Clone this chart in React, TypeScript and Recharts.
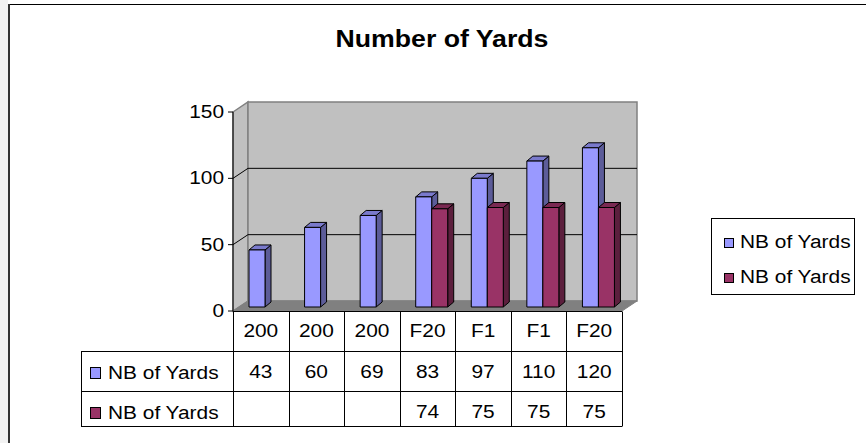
import React from 'react'
import { BarChart, Bar, XAxis, YAxis, CartesianGrid } from 'recharts'

const categories = ['200', '200', '200', 'F20', 'F1', 'F1', 'F20']
const yardsA = [43, 60, 69, 83, 97, 110, 120]
const yardsB: (number | null)[] = [null, null, null, 74, 75, 75, 75]
const seriesNames = ['NB of Yards', 'NB of Yards']
const seriesColors = ['#9999ff', '#993366']
const yTicks = [0, 50, 100, 150]

const data = categories.map((cat, i) => ({ idx: i, cat, a: yardsA[i], b: yardsB[i] }))
const seriesValues = [yardsA, yardsB]

// layout (front plane of the 3d plot box)
const W = 866, H = 443
const PLOT_L = 233, PLOT_R = 622, PLOT_T = 112, PLOT_B = 311
const DX = 15, DY = 10          // wall depth
const BAR_DX = 4, BAR_DY = -4   // bars sit a bit inside the box
const SIDE_X = 6, SIDE_Y = 5    // bar depth
const FONT = "'Liberation Sans', Arial, sans-serif"
const SX = 1.16                  // the original text is stretched sideways

const shade = (hex: string, f: number) => {
  const n = parseInt(hex.slice(1), 16)
  const c = [(n >> 16) & 255, (n >> 8) & 255, n & 255].map(v => Math.round(v * f))
  return `rgb(${c[0]},${c[1]},${c[2]})`
}

function SText({ x, y, size = 18, bold = false, anchor = 'start', children }: any) {
  return (
    <text transform={`translate(${x} ${y}) scale(${SX} 1)`} textAnchor={anchor}
      fontSize={size} fontWeight={bold ? 700 : 400} fontFamily={FONT} fill="#000">{children}</text>
  )
}

const bar3d = (front: string) => (p: any) => {
  const { x, y, width, height } = p
  if (!(height > 0)) return null
  const bx = x + BAR_DX, by = y + BAR_DY, r = bx + width
  return (
    <g stroke="#000" strokeWidth={1} strokeLinejoin="round">
      <polygon points={`${r},${by} ${r + SIDE_X},${by - SIDE_Y} ${r + SIDE_X},${by + height - SIDE_Y} ${r},${by + height}`} fill={shade(front, 0.6)} />
      <polygon points={`${bx},${by} ${bx + SIDE_X},${by - SIDE_Y} ${r + SIDE_X},${by - SIDE_Y} ${r},${by}`} fill={shade(front, 0.8)} />
      <rect x={bx} y={by} width={width} height={height} fill={front} />
    </g>
  )
}

const gridLine = (p: any) => {
  const { x1, x2, y1 } = p
  if (Math.abs(y1 - PLOT_T) < 1 || Math.abs(y1 - PLOT_B) < 1) return <g key={p.key} />
  return (
    <g key={p.key} stroke="#000" strokeWidth={1} fill="none">
      <polyline points={`${x1},${y1} ${x1 + DX},${y1 - DY} ${x2 + DX},${y1 - DY}`} />
    </g>
  )
}

const YTick = (p: any) => (
  <SText x={p.x} y={p.y + 6} anchor="end">{p.payload.value}</SText>
)

function Walls() {
  return (
    <svg width={W} height={H} style={{ position: 'absolute', left: 0, top: 0 }}>
      <rect x={0} y={0} width={8} height={H} fill="#f2f2f2" />
      <line x1={9} y1={4.5} x2={W} y2={4.5} stroke="#000" />
      <line x1={9} y1={4} x2={9} y2={H} stroke="#333" strokeWidth={2} />
      <SText x={442} y={47} size={23} bold anchor="middle">Number of Yards</SText>
      <polygon points={`${PLOT_L},${PLOT_T} ${PLOT_L + DX},${PLOT_T - DY} ${PLOT_L + DX},${PLOT_B - DY} ${PLOT_L},${PLOT_B}`}
        fill="#c0c0c0" stroke="#808080" strokeWidth={1.5} />
      <rect x={PLOT_L + DX} y={PLOT_T - DY} width={PLOT_R - PLOT_L} height={PLOT_B - PLOT_T}
        fill="#c0c0c0" stroke="#808080" strokeWidth={1.5} />
      <polygon points={`${PLOT_L},${PLOT_B} ${PLOT_L + DX},${PLOT_B - DY} ${PLOT_R + DX},${PLOT_B - DY} ${PLOT_R},${PLOT_B}`}
        fill="#808080" stroke="#808080" strokeWidth={1} />
    </svg>
  )
}

// data table under the plot + legend box on the right
function DataTable() {
  const colW = (PLOT_R - PLOT_L) / categories.length
  const TL = 81, R0 = PLOT_B + 0.5, R1 = 351.5, R2 = 391.5, R3 = 426.5
  const rows = [R1, R2]
  return (
    <svg width={W} height={H} style={{ position: 'absolute', left: 0, top: 0, pointerEvents: 'none' }}>
      <g stroke="#000" strokeWidth={1}>
        <line x1={PLOT_L} y1={R0} x2={PLOT_R} y2={R0} />
        <line x1={TL} y1={R1} x2={PLOT_R} y2={R1} />
        <line x1={TL} y1={R2} x2={PLOT_R} y2={R2} />
        <line x1={TL} y1={R3} x2={PLOT_R} y2={R3} />
        <line x1={TL + 0.5} y1={R1} x2={TL + 0.5} y2={R3} />
        {categories.map((_, i) => (
          <line key={i} x1={Math.round(PLOT_L + i * colW) + 0.5} y1={R0} x2={Math.round(PLOT_L + i * colW) + 0.5} y2={R3} />
        ))}
        <line x1={PLOT_R + 0.5} y1={R0} x2={PLOT_R + 0.5} y2={R3} />
      </g>
      {categories.map((c, i) => (
        <SText key={'c' + i} x={PLOT_L + (i + 0.5) * colW} y={337} anchor="middle">{c}</SText>
      ))}
      {seriesNames.map((name, s) => (
        <g key={'s' + s}>
          <rect x={90.5} y={rows[s] + 16} width={10} height={11} fill={seriesColors[s]} stroke="#000" />
          <SText x={108} y={rows[s] + 27}>{name}</SText>
          {seriesValues[s].map((v, i) => v == null ? null : (
            <SText key={'v' + i} x={PLOT_L + (i + 0.5) * colW} y={rows[s] + 26} anchor="middle">{v}</SText>
          ))}
        </g>
      ))}
      <rect x={711.5} y={218.5} width={143} height={76} fill="#fff" stroke="#000" />
      {seriesNames.map((name, s) => (
        <g key={'l' + s}>
          <rect x={724.5} y={238.5 + s * 35} width={9} height={9} fill={seriesColors[s]} stroke="#000" />
          <SText x={740} y={248 + s * 35}>{name}</SText>
        </g>
      ))}
    </svg>
  )
}

export default function App() {
  return (
    <div style={{ position: 'absolute', left: 0, top: 0, width: W, height: H, background: '#fff', overflow: 'hidden' }}>
      <Walls />
      <div style={{ position: 'absolute', left: 0, top: 0 }}>
        <BarChart width={W} height={H} data={data} barCategoryGap={12} barGap={0}
          margin={{ top: PLOT_T, right: W - PLOT_R, bottom: H - PLOT_B, left: PLOT_L - 60 }}>
          <CartesianGrid vertical={false} horizontal={gridLine} />
          <XAxis dataKey="idx" hide />
          <YAxis width={60} domain={[0, 150]} ticks={yTicks} interval={0} tickSize={5} tickMargin={4}
            axisLine={{ stroke: '#000' }} tickLine={{ stroke: '#000' }} tick={YTick} />
          <Bar dataKey="a" name={seriesNames[0]} fill={seriesColors[0]} shape={bar3d(seriesColors[0])} isAnimationActive={false} />
          <Bar dataKey="b" name={seriesNames[1]} fill={seriesColors[1]} shape={bar3d(seriesColors[1])} isAnimationActive={false} />
        </BarChart>
      </div>
      <DataTable />
    </div>
  )
}
